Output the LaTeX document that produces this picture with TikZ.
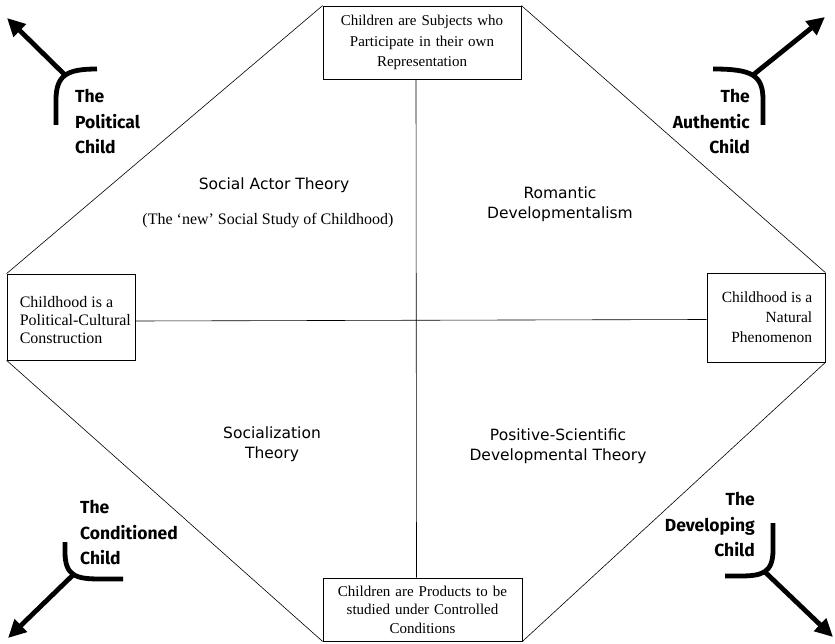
\documentclass[tikz,border=0pt]{standalone}
\usepackage{fontspec}
\setmainfont{Liberation Serif}
\newfontfamily\vsans{DejaVu Sans}
\newfontfamily\comic{Fira Sans}
\usetikzlibrary{arrows.meta}
\begin{document}
\begin{tikzpicture}[x=1pt,y=-1pt,
 box/.style={draw, line width=0.8pt, inner sep=0pt, font=\fontsize{15}{19}\selectfont},
 boxtext/.style={inner sep=0pt, font=\fontsize{15}{18}\selectfont},
 edge/.style={line width=0.6pt},
 theory/.style={font=\vsans\fontsize{15.5}{19.5}\selectfont, align=center, inner sep=0pt},
 serifnote/.style={font=\fontsize{16}{18}\selectfont, inner sep=0pt},
 childlbl/.style={font=\comic\bfseries\fontsize{17.5}{25.5}\selectfont, inner sep=0pt},
 fork/.style={line width=4.8pt},
 pointer/.style={line width=4.8pt, -{Triangle[length=18pt,width=17pt]}}
]
\useasboundingbox (0,0) rectangle (835,644);

% boxes
\node[box, minimum width=198, minimum height=73, text width=190, align=center,
      font=\fontsize{15}{20.5}\selectfont] (top) at (422,42.5)
  {Children are Subjects who\\Participate in their own\\Representation};
\node[box, minimum width=199, minimum height=63, text width=190, align=center,
      font=\fontsize{15}{18.5}\selectfont] (bottom) at (422.5,609.5)
  {Children are Products to be\\studied under Controlled\\Conditions};
\node[box, minimum width=128, minimum height=86] (left) at (71,317) {};
\node[boxtext, align=left, anchor=west, font=\fontsize{16}{18}\selectfont] (lefttxt)
  at ([xshift=13pt,yshift=-3pt]left.west)
  {Childhood is a\\Political-Cultural\\Construction};
\node[box, minimum width=118, minimum height=89] (right) at (766,317.5) {};
\node[boxtext, align=right, anchor=east, font=\fontsize{15.5}{20}\selectfont] (righttxt)
  at ([xshift=-13pt]right.east) {Childhood is a\\Natural\\Phenomenon};

% octagon and axes
\draw[edge] (top.north west) -- (left.north west);
\draw[edge] (left.south west) -- (bottom.south west);
\draw[edge] (top.north east) -- (right.north east);
\draw[edge] (right.south east) -- (bottom.south east);
\draw[edge] ([xshift=-6pt]top.south) -- ([xshift=-6pt]bottom.north);
\draw[edge] ([yshift=-4pt]left.east) -- ([yshift=-2pt]right.west);

% theory labels
\node[theory] (sat) at (274,185) {Social Actor Theory};
\node[serifnote] (nss) at (268,221) {(The `new' Social Study of Childhood)};
\node[theory] (rom) at (560,204) {Romantic\\Developmentalism};
\node[theory] (soc) at (272,444) {Socialization\\Theory};
\node[theory] (pos) at (558,446) {Positive-Scientific\\Developmental Theory};

% child labels
\node[childlbl, align=left, anchor=west] (pol) at (75,122) {The\\Political\\Child};
\node[childlbl, align=right, anchor=east] (aut) at (750,122) {The\\Authentic\\Child};
\node[childlbl, align=left, anchor=west] (con) at (80,533) {The\\Conditioned\\Child};
\node[childlbl, align=right, anchor=east] (dev) at (755,525) {The\\Developing\\Child};

% forks and arrows
\coordinate (pj) at (65,75);  \coordinate (ptip) at (7,18);
\coordinate (aj) at (753,75); \coordinate (atip) at (825,17);
\coordinate (cj) at (73.5,574.5); \coordinate (ctip) at (8,638);
\coordinate (dj) at (765,572); \coordinate (dtip) at (833,637);

\draw[fork] (56,125) -- (56,100) .. controls (56,75) and (67,69) .. (97,69);
\draw[fork] (713,69) .. controls (752,69) and (763,75) .. (763,100) -- (763,125);
\draw[fork] (65,542) -- (65,552) .. controls (65,576) and (76,579) .. (100,579) -- (123,579);
\draw[fork] (773,523) -- (773,550) .. controls (773,573) and (762,576) .. (740,576) -- (725,576);

\draw[pointer] (pj) -- (ptip);
\draw[pointer] (aj) -- (atip);
\draw[pointer] (cj) -- (ctip);
\draw[pointer] (dj) -- (dtip);
\end{tikzpicture}
\end{document}
